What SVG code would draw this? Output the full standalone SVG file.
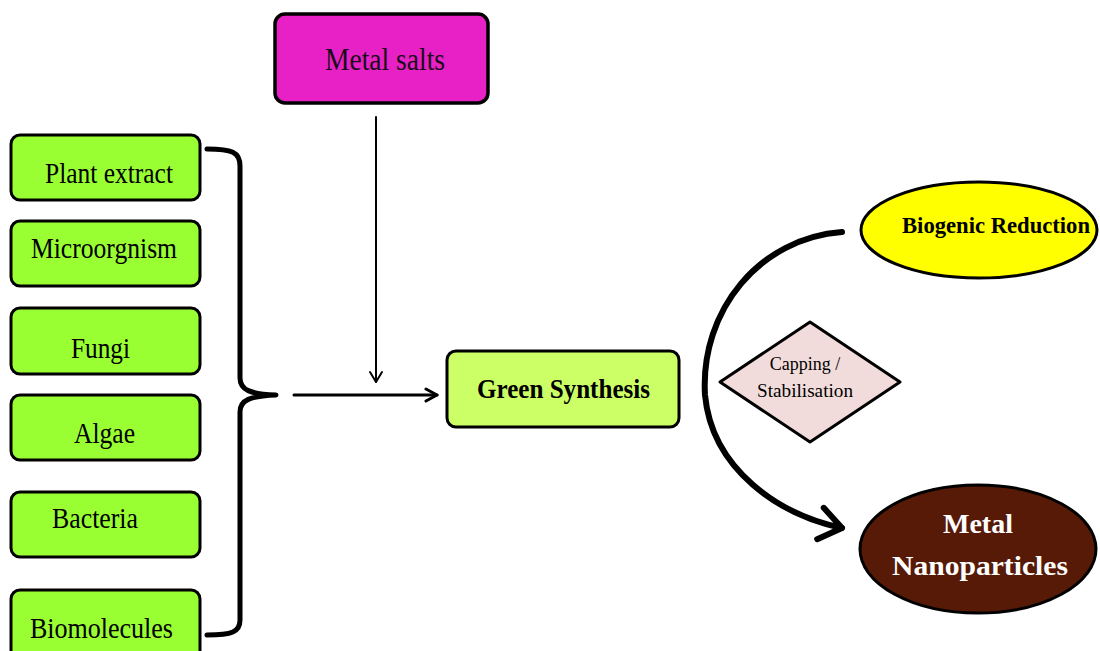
<svg xmlns="http://www.w3.org/2000/svg" width="1100" height="651" viewBox="0 0 1100 651">
<defs>
<style>
.src{fill:#99FF33;stroke:#000;stroke-width:3}
.t{font-family:"Liberation Serif","Times New Roman",serif}
.k{fill:#000}
.w{fill:#fff}
.lbl{font-size:30px}
.b{font-weight:bold}
.con{fill:none;stroke:#000;stroke-linecap:round;stroke-linejoin:round}
</style>
<marker id="ah" viewBox="0 0 16 16" refX="14" refY="8" markerWidth="16" markerHeight="16" markerUnits="userSpaceOnUse" orient="auto">
<path d="M3,2 L14,8 L3,14" fill="none" stroke="#000" stroke-width="3" stroke-linecap="round" stroke-linejoin="round"/>
</marker>
<marker id="ah2" viewBox="0 0 14 14" refX="12" refY="7" markerWidth="14" markerHeight="14" markerUnits="userSpaceOnUse" orient="auto">
<path d="M2,1 L12,7 L2,13" fill="none" stroke="#000" stroke-width="2" stroke-linecap="round" stroke-linejoin="round"/>
</marker>
<marker id="ah3" viewBox="0 0 40 40" refX="34" refY="20" markerWidth="40" markerHeight="40" markerUnits="userSpaceOnUse" orient="auto">
<path d="M12,4 L34,20 L12,36" fill="none" stroke="#000" stroke-width="6" stroke-linecap="round" stroke-linejoin="round"/>
</marker>
</defs>
<rect width="1100" height="651" fill="#fff"/>

<g id="connectors">
<path class="con" d="M207,149 C232,149 240,152 240,166 L240,378 C240,390 250,394 276,395 C250,396 240,400 240,412 L240,620 C240,632 232,635 207,635" stroke-width="5"/>
<path class="con" d="M294,395 L437,395" stroke-width="3" marker-end="url(#ah)"/>
<path class="con" d="M376,117 L376,382" stroke-width="2" marker-end="url(#ah2)"/>
<path class="con" d="M842,232 C760,238 700,310 705,395 C712,470 780,515 842,528" stroke-width="6" marker-end="url(#ah3)"/>
</g>

<g id="plant-extract">
<rect class="src" x="11" y="135" width="189" height="65" rx="9"/>
<text class="t k lbl" x="45" y="183" textLength="128" lengthAdjust="spacingAndGlyphs">Plant extract</text>
</g>
<g id="microorganism">
<rect class="src" x="11" y="221" width="189" height="65" rx="9"/>
<text class="t k lbl" x="31" y="258" textLength="146" lengthAdjust="spacingAndGlyphs">Microorgnism</text>
</g>
<g id="fungi">
<rect class="src" x="11" y="308" width="189" height="66" rx="9"/>
<text class="t k lbl" x="71" y="358" textLength="59" lengthAdjust="spacingAndGlyphs">Fungi</text>
</g>
<g id="algae">
<rect class="src" x="11" y="395" width="189" height="65" rx="9"/>
<text class="t k lbl" x="74" y="443" textLength="61" lengthAdjust="spacingAndGlyphs">Algae</text>
</g>
<g id="bacteria">
<rect class="src" x="11" y="492" width="189" height="65" rx="9"/>
<text class="t k lbl" x="52" y="528" textLength="86" lengthAdjust="spacingAndGlyphs">Bacteria</text>
</g>
<g id="biomolecules">
<rect class="src" x="11" y="590" width="189" height="70" rx="9"/>
<text class="t k lbl" x="30" y="638" textLength="143" lengthAdjust="spacingAndGlyphs">Biomolecules</text>
</g>

<g id="metal-salts">
<rect x="275" y="14" width="213" height="89" rx="10" fill="#E821C6" stroke="#000" stroke-width="3.5"/>
<text class="t" x="325" y="70" font-size="32" fill="#1a0a1a" textLength="120" lengthAdjust="spacingAndGlyphs">Metal salts</text>
</g>

<g id="green-synthesis">
<rect x="447" y="351" width="232" height="76" rx="9" fill="#CCFF66" stroke="#000" stroke-width="3"/>
<text class="t k b" x="477" y="398" font-size="27" textLength="173" lengthAdjust="spacingAndGlyphs">Green Synthesis</text>
</g>

<g id="biogenic-reduction">
<ellipse cx="979" cy="230" rx="118" ry="48" fill="#FFFF00" stroke="#000" stroke-width="3"/>
<text class="t k b" x="996" y="233" font-size="23" text-anchor="middle" textLength="188" lengthAdjust="spacingAndGlyphs">Biogenic Reduction</text>
</g>

<g id="capping">
<polygon points="810,322 900,382 810,442 720,382" fill="#F2DCDB" stroke="#000" stroke-width="3" stroke-linejoin="round"/>
<text class="t k" x="805" y="370" font-size="18" text-anchor="middle">Capping /</text>
<text class="t k" x="805" y="397" font-size="18" text-anchor="middle" textLength="96" lengthAdjust="spacingAndGlyphs">Stabilisation</text>
</g>

<g id="metal-nanoparticles">
<ellipse cx="978" cy="549" rx="118" ry="64" fill="#561A06" stroke="#000" stroke-width="3"/>
<text class="t w b" x="978" y="533" font-size="28" text-anchor="middle">Metal</text>
<text class="t w b" x="980" y="575" font-size="28" text-anchor="middle" textLength="176" lengthAdjust="spacingAndGlyphs">Nanoparticles</text>
</g>
</svg>
